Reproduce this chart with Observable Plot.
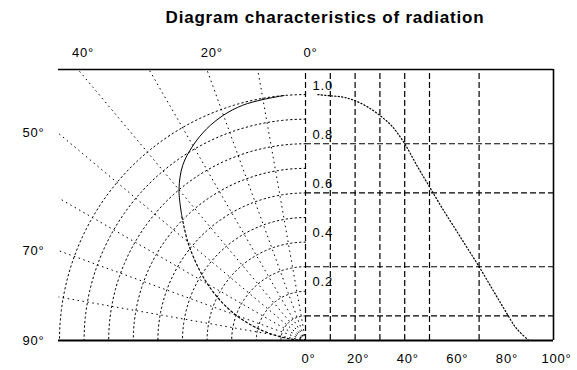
<!DOCTYPE html>
<html>
<head>
<meta charset="utf-8">
<script src="https://cdn.jsdelivr.net/npm/d3@7"></script>
<script src="https://cdn.jsdelivr.net/npm/@observablehq/plot@0.6"></script>
<style>
  html, body { margin: 0; padding: 0; background: #fff; }
  #wrap { position: relative; width: 577px; height: 370px; }
  #title { position: absolute; left: 0; top: 8px; width: 577px; padding-left: 73px; box-sizing: border-box;
           text-align: center; font: bold 17px "Liberation Sans", Arial, sans-serif; letter-spacing: 0.8px; color: #000; z-index: 2; }
</style>
</head>
<body>
<div id="wrap"><div id="title">Diagram characteristics of radiation</div></div>
<script>
// ---- data ----
const angles = [5, 10, 15, 20, 25, 30, 35, 40, 45, 50, 55, 60, 65, 70, 75, 80, 85, 90];
const intensity = [1.0, 0.995, 0.99, 0.975, 0.95, 0.915, 0.87, 0.80, 0.71, 0.625, 0.54, 0.46, 0.38, 0.30, 0.215, 0.13, 0.05, 0.0];
const polarRayAngles = [10, 20, 30, 40, 50, 60, 70, 80];
const polarRadii = [0.1, 0.2, 0.3, 0.4, 0.5, 0.6, 0.7, 0.8, 0.9, 1.0];
const topAngleTicks = [0, 20, 40];
const leftAngleTicks = [50, 70, 90];
const rightGridAngles = [10, 20, 30, 40, 50, 70];
const rightGridLevels = [0.1, 0.3, 0.6, 0.8];
const bottomAngleTicks = [0, 20, 40, 60, 80, 100];
const radialTicks = [1.0, 0.8, 0.6, 0.4, 0.2];
const solidUpTo = 45; // polar curve drawn solid up to this angle, dotted beyond

// ---- geometry of the combined frame (units of relative intensity) ----
const XL = 1.004, XR = 1.008, YT = 1.102;
const rad = d => d * Math.PI / 180;
const rx = a => a / 100 * XR;           // right panel: angle -> x
const px = (r, a) => -r * Math.sin(rad(a));
const py = (r, a) => r * Math.cos(rad(a));

const pattern = angles.map((a, i) => ({a, v: intensity[i]}));
const patternHead = pattern.filter(d => d.a <= solidUpTo);
const patternTail = pattern.filter(d => d.a >= solidUpTo);
const arcPts = polarRadii.flatMap(r => d3.range(0, 90.5, 1).map(a => ({r, x: px(r, a), y: py(r, a)})));
const rays = polarRayAngles.map(a => {
  const t = Math.min(YT / Math.cos(rad(a)), XL / Math.sin(rad(a)));
  return {a, x2: px(t, a), y2: py(t, a)};
});

const font = '"Liberation Sans", Arial, sans-serif';
const ink = "#000";

const svg = Plot.plot({
  width: 577, height: 370,
  marginLeft: 58, marginRight: 24, marginTop: 69, marginBottom: 30,
  x: {domain: [-XL, XR], axis: null},
  y: {domain: [0, YT], axis: null},
  style: {fontFamily: font, background: "#fff", color: ink, letterSpacing: "0.8px"},
  marks: [
    // polar grid
    Plot.line(arcPts, {x: "x", y: "y", z: "r", stroke: ink, strokeWidth: 1, strokeDasharray: "1.5,3"}),
    Plot.link(rays, {x1: 0, y1: 0, x2: "x2", y2: "y2", stroke: ink, strokeWidth: 1, strokeDasharray: "1.5,3.5"}),
    // right panel grid
    Plot.ruleX(rightGridAngles.concat([0]), {x: d => rx(d), y1: 0, y2: YT, stroke: ink, strokeWidth: 1.2, strokeDasharray: "6,3"}),
    Plot.ruleY(rightGridLevels, {y: d => d, x1: 0, x2: XR, stroke: ink, strokeWidth: 1.2, strokeDasharray: "6,3"}),
    // frame
    Plot.ruleY([YT], {x1: -XL, x2: XR, stroke: ink, strokeWidth: 1.6}),
    Plot.ruleY([0], {x1: -XL, x2: XR, stroke: ink, strokeWidth: 2}),
    Plot.ruleX([XR], {y1: 0, y2: YT, stroke: ink, strokeWidth: 1.6}),
    // radiation pattern: polar and cartesian
    Plot.line(patternHead, {x: d => px(d.v, d.a), y: d => py(d.v, d.a), stroke: ink, strokeWidth: 1, curve: "catmull-rom"}),
    Plot.line(patternTail, {x: d => px(d.v, d.a), y: d => py(d.v, d.a), stroke: ink, strokeWidth: 1.2, strokeDasharray: "2,2.5", curve: "catmull-rom"}),
    Plot.line(pattern, {x: d => rx(d.a), y: "v", stroke: ink, strokeWidth: 1.2, strokeDasharray: "1.2,2.2", curve: "catmull-rom"}),
    // labels
    Plot.text(topAngleTicks, {x: a => -YT * Math.tan(rad(a)), y: YT, text: a => `${a}°`, dx: 5, dy: -17, fontSize: 13, fill: ink}),
    Plot.text(leftAngleTicks, {x: -XL, y: a => XL / Math.tan(rad(a)), text: a => `${a}°`, dx: -14, textAnchor: "end", fontSize: 13, fill: ink}),
    Plot.text(bottomAngleTicks, {x: d => rx(d), y: 0, text: d => `${d}°`, dy: 18, dx: 3, fontSize: 13, fill: ink}),
    Plot.text(radialTicks, {x: 0, y: d => d, text: d => d.toFixed(1), dx: 7, dy: -9, textAnchor: "start", fontSize: 13, fill: ink})
  ]
});
document.getElementById("wrap").prepend(svg);
svg.style.position = "absolute"; svg.style.left = "0"; svg.style.top = "0";
</script>
</body>
</html>
